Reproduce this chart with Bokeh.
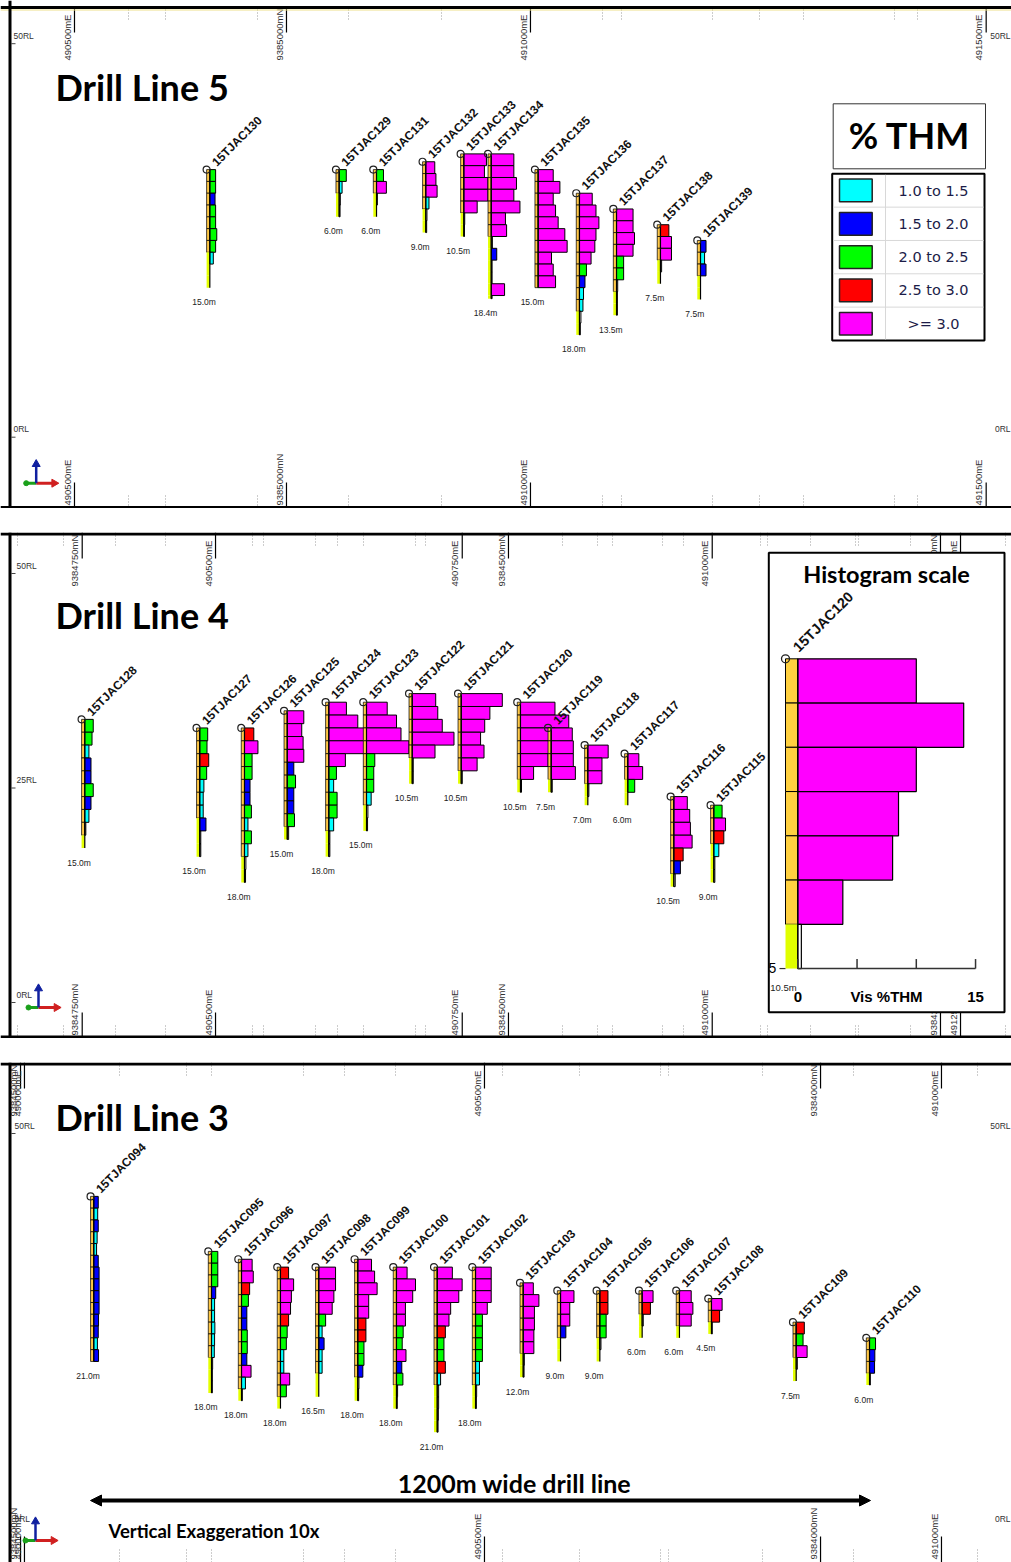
import numpy as np
from bokeh.plotting import figure
from bokeh.layouts import column
from bokeh.models import Span, Arrow, NormalHead
from bokeh.core.properties import value
from bokeh.embed import file_html
from bokeh.resources import INLINE

# ---------------- data ----------------
INTERVAL_M = 1.5
BIN_LOWER = [1.0, 1.5, 2.0, 2.5, 3.0]
BIN_COLORS = ["#00FFFF", "#0000FF", "#00FF00", "#FF0000", "#FF00FF"]
BIN_LABELS = ["1.0 to 1.5", "1.5 to 2.0", "2.0 to 2.5", "2.5 to 3.0", ">= 3.0"]
LITH_UPPER = "#FFC846"
LITH_LOWER = "#E4FF00"

# Drill Line 5
L5_HOLES = ["15TJAC130", "15TJAC129", "15TJAC131", "15TJAC132", "15TJAC133", "15TJAC134",
            "15TJAC135", "15TJAC136", "15TJAC137", "15TJAC138", "15TJAC139"]
L5_CHAINAGE_M = [222.7, 365.8, 407.1, 461.6, 503.7, 534.0, 585.9, 631.6, 672.6, 721.2, 765.5]
L5_COLLAR_RL = [34, 34, 34, 35, 36, 36, 34, 31, 29, 27, 25]
L5_DEPTH_M = [15.0, 6.0, 6.0, 9.0, 10.5, 18.4, 15.0, 18.0, 13.5, 7.5, 7.5]
L5_THM = [
    [2.0, 2.0, 1.8, 2.0, 2.0, 2.4, 2.0, 1.2, 0, 0],
    [2.45, 1.0, 0.4, 0.3],
    [2.4, 3.4, 0.3, 0],
    [3.1, 3.5, 3.9, 1.1, 0.4, 0.3],
    [7.8, 7.1, 8.3, 8.3, 4.6, 0.3, 0.2],
    [7.8, 7.8, 8.7, 7.8, 9.9, 4.9, 5.3, 0.4, 1.9, 0.3, 0.3, 4.6, 0.3],
    [5.2, 7.5, 5.2, 6.0, 6.9, 9.2, 10.0, 4.6, 5.2, 6.0],
    [4.4, 5.7, 6.7, 5.7, 5.3, 4.0, 2.4, 1.9, 1.4, 1.2, 0.5, 0.3],
    [5.7, 5.7, 6.2, 5.7, 2.45, 2.45, 0.4, 0.3, 0.3],
    [2.9, 3.8, 3.8, 0.4, 0],
    [1.9, 1.4, 1.9, 0, 0],
]
L5_UPPER_N = [7, 2, 2, 4, 5, 7, 10, 10, 7, 3, 3]

# Drill Line 4
L4_HOLES = ["15TJAC128", "15TJAC127", "15TJAC126", "15TJAC125", "15TJAC124", "15TJAC123",
            "15TJAC122", "15TJAC121", "15TJAC120", "15TJAC119", "15TJAC118", "15TJAC117",
            "15TJAC116", "15TJAC115"]
L4_CHAINAGE_M = [76.9, 192.8, 237.9, 281.0, 322.9, 360.9, 407.0, 456.4, 516.1, 547.1, 584.0,
                 624.3, 670.7, 711.0]
L4_COLLAR_RL = [33, 32, 32, 34, 35, 35, 36, 36, 35, 32, 30, 29, 24, 23]
L4_DEPTH_M = [15.0, 15.0, 18.0, 15.0, 18.0, 15.0, 10.5, 10.5, 10.5, 7.5, 7.0, 6.0, 10.5, 9.0]
L4_THM = [
    [2.45, 2.1, 1.2, 1.8, 1.8, 2.45, 1.8, 1.2, 0.3, 0],
    [2.3, 2.1, 2.6, 2.0, 1.2, 1.0, 1.0, 1.8, 0.3, 0.3],
    [2.7, 3.9, 2.2, 2.2, 1.6, 1.6, 2.0, 1.0, 2.0, 1.0, 0.4, 0.3],
    [4.8, 4.2, 4.6, 4.8, 1.9, 2.4, 1.9, 1.9, 2.1, 0.4],
    [5.1, 8.4, 11.0, 12.0, 4.8, 2.2, 1.4, 2.4, 2.4, 1.4, 0.3, 0.3],
    [6.0, 8.7, 10.0, 12.3, 2.4, 2.1, 2.1, 1.35, 0.4, 0.3],
    [6.8, 7.4, 8.7, 12.1, 6.6, 0.3, 0.3],
    [11.9, 8.3, 6.8, 5.6, 6.6, 4.6, 0.3],
    [10.0, 14.0, 10.0, 8.5, 8.0, 3.8, 0.3],
    [6.1, 6.4, 6.4, 7.0, 0.3],
    [5.9, 4.1, 4.1, 0.3, 0],
    [3.2, 4.3, 2.0, 0],
    [3.9, 4.6, 4.8, 5.3, 2.7, 1.9, 0.4],
    [2.4, 3.4, 2.9, 1.45, 0.3, 0.3],
]
L4_UPPER_N = [9, 7, 10, 9, 10, 8, 5, 6, 6, 4, 3, 2, 6, 3]

# Drill Line 3
L3_HOLES = ["15TJAC094", "15TJAC095", "15TJAC096", "15TJAC097", "15TJAC098", "15TJAC099",
            "15TJAC100", "15TJAC101", "15TJAC102", "15TJAC103", "15TJAC104", "15TJAC105",
            "15TJAC106", "15TJAC107", "15TJAC108", "15TJAC109", "15TJAC110"]
L3_CHAINAGE_M = [93.5, 222.6, 255.5, 298.2, 340.2, 383.0, 425.4, 470.1, 512.1, 564.4, 605.3,
                 648.4, 694.8, 735.7, 770.8, 863.7, 944.1]
L3_COLLAR_RL = [42, 35, 34, 33, 33, 34, 33, 33, 33, 31, 30, 30, 30, 30, 29, 26, 24]
L3_DEPTH_M = [21.0, 18.0, 18.0, 18.0, 16.5, 18.0, 18.0, 21.0, 18.0, 12.0, 9.0, 9.0, 6.0, 6.0,
              4.5, 7.5, 6.0]
L3_THM = [
    [1.6, 1.4, 1.6, 1.2, 1.0, 1.6, 1.9, 1.9, 1.9, 1.9, 1.7, 1.6, 1.3, 1.7],
    [2.25, 2.25, 2.25, 1.5, 1.1, 1.1, 1.2, 1.1, 1.0, 0.4, 0.3, 0.3],
    [3.8, 4.2, 2.9, 2.45, 1.9, 1.9, 2.05, 2.05, 1.9, 3.4, 1.4, 0.3],
    [2.9, 4.7, 3.9, 3.6, 2.9, 2.4, 2.1, 1.2, 1.2, 3.3, 2.1, 0],
    [6.0, 6.0, 5.4, 4.8, 2.45, 1.2, 1.9, 1.2, 1.2, 0, 0],
    [4.9, 6.0, 6.9, 3.9, 3.9, 2.9, 2.9, 2.2, 2.2, 1.8, 0.4, 0.3],
    [3.8, 6.8, 5.8, 3.2, 3.2, 2.4, 2.05, 3.4, 1.9, 2.3, 0.4, 0.3],
    [5.4, 8.9, 7.7, 4.8, 4.2, 2.9, 2.4, 2.4, 2.9, 1.2, 0.5, 0.5, 0.4, 0.3],
    [5.6, 5.6, 5.6, 4.2, 2.45, 2.45, 2.45, 2.45, 1.4, 1.4, 0.4, 0.3],
    [3.6, 5.6, 4.0, 4.0, 3.8, 3.8, 0.4, 0.3],
    [4.8, 3.3, 3.3, 1.9, 0, 0],
    [2.9, 2.9, 2.25, 2.25, 0.4, 0],
    [3.9, 2.95, 0.4, 0],
    [4.2, 4.8, 4.2, 0],
    [3.8, 2.9, 0.3],
    [2.9, 2.45, 3.9, 0.4, 0],
    [2.15, 1.9, 1.8, 0.3],
]
L3_UPPER_N = [14, 9, 11, 11, 9, 10, 10, 10, 10, 6, 4, 4, 2, 3, 2, 3, 3]

# section grid tick labels (chainage along section, m)
L5_TICK_LABELS = ["490500mE", "9385000mN", "491000mE", "491500mE"]
L5_TICK_M = [73.0, 307.5, 577.4, 1081.5]
L4_TICK_LABELS = ["9384750mN", "490500mE", "490750mE", "9384500mN", "491000mE", "9384250mN", "491250mE"]
L4_TICK_M = [74.3, 208.7, 457.4, 504.0, 709.4, 939.5, 959.7]
L3_TICK_LABELS = ["9384500mN", "490000mE", "490500mE", "9384000mN", "491000mE"]
L3_TICK_M = [13.2, 17.5, 521.9, 890.4, 1023.0]
L5_RL_TICKS = [50, 0]
L4_RL_TICKS = [50, 25, 0]
L3_RL_TICKS = [50, 0]

INSET_HOLE = "15TJAC120"
INSET_SCALE_TICKS = [0, 5, 10, 15]

# ---------------- helpers ----------------
FONT = value("Liberation Sans")
TITLE_FONT = value("Lato")
PAGE_W = 1011


def thm_color(v):
    c = "white"
    for lo, col in zip(BIN_LOWER, BIN_COLORS):
        if v >= lo:
            c = col
    return c


def make_panel(top, height, kx, ky, rl0_px):
    X = lambda px: (px - 8.0) / kx
    Y = lambda py: (rl0_px - py) / ky
    p = figure(width=PAGE_W, height=height, x_range=(X(0), X(PAGE_W)),
               y_range=(Y(top + height), Y(top)), x_axis_type=None, y_axis_type=None,
               output_backend="svg", toolbar_location=None, min_border=0,
               outline_line_color=None, background_fill_color="white",
               border_fill_color="white")
    return p, X, Y


def frame(p, X, Y, edge_top, edge_bot=None):
    p.add_layout(Span(location=X(9.5), dimension="height", line_color="black", line_width=3))
    p.add_layout(Span(location=Y(edge_top), dimension="width", line_color="black", line_width=3))
    if edge_bot is not None:
        p.add_layout(Span(location=Y(edge_bot), dimension="width", line_color="black",
                          line_width=3))


def grid_ticks(p, X, Y, kx, top, bot, labels, ticks_m, dots_px, bottom=True):
    for lab, tm in zip(labels, ticks_m):
        p.segment(x0=tm, y0=Y(top), x1=tm, y1=Y(top + 26), line_color="black", line_width=1.2)
        p.text(x=[tm - 7.3 / kx], y=[Y(top + 54)], text=[lab], angle=np.pi / 2,
               text_font=FONT, text_font_size="9.5px", text_color="#333333",
               text_align="left", text_baseline="middle")
        if bottom:
            p.segment(x0=tm, y0=Y(bot - 26), x1=tm, y1=Y(bot), line_color="black", line_width=1.2)
            p.text(x=[tm - 7.3 / kx], y=[Y(bot - 3)], text=[lab], angle=np.pi / 2,
                   text_font=FONT, text_font_size="9.5px", text_color="#333333",
                   text_align="left", text_baseline="middle")
    xs = [X(d) for d in dots_px]
    p.segment(x0=xs, y0=[Y(top)] * len(xs), x1=xs, y1=[Y(top + 13)] * len(xs),
              line_color="#9a9a9a", line_width=1, line_dash="1 2")
    if bottom:
        p.segment(x0=xs, y0=[Y(bot - 13)] * len(xs), x1=xs, y1=[Y(bot)] * len(xs),
                  line_color="#9a9a9a", line_width=1, line_dash="1 2")


def rl_labels(p, X, ky, rl_ticks, left_px, right_px=None):
    for rl in rl_ticks:
        lab = f"{rl}RL"
        p.segment(x0=X(11), y0=rl, x1=X(15), y1=rl, line_color="#444444", line_width=1)
        p.text(x=[X(left_px)], y=[rl + 8 / ky], text=[lab],
               text_font=FONT, text_font_size="8.5px", text_color="#333333",
               text_align="left", text_baseline="middle")
        if right_px is not None:
            p.text(x=[X(right_px)], y=[rl + 8 / ky], text=[lab],
                   text_font=FONT, text_font_size="8.5px", text_color="#333333",
                   text_align="right", text_baseline="middle")


def triad(p, X, Y, ox, oy):
    p.segment(x0=X(ox - 10), y0=Y(oy), x1=X(ox), y1=Y(oy), line_color="#1aa01a", line_width=3)
    p.scatter(x=[X(ox - 10)], y=[Y(oy)], size=5, marker="circle", fill_color="#1aa01a",
              line_color="#1aa01a")
    p.segment(x0=X(ox), y0=Y(oy), x1=X(ox + 17), y1=Y(oy), line_color="#d02020", line_width=3)
    p.scatter(x=[X(ox + 18)], y=[Y(oy)], size=8, marker="triangle", angle=-np.pi / 2,
              fill_color="#d02020", line_color="#d02020")
    p.segment(x0=X(ox), y0=Y(oy), x1=X(ox), y1=Y(oy - 17), line_color="#1020a0", line_width=2.5)
    p.scatter(x=[X(ox)], y=[Y(oy - 19)], size=8, marker="triangle",
              fill_color="#1020a0", line_color="#1020a0")


def draw_holes(p, kx, ky, names, chain, rl, depth, thm, n_upper, pct_px, strip_px=3.2):
    sw = strip_px / kx
    mpp = pct_px / kx
    for i in range(len(names)):
        vals = thm[i]
        n = len(vals)
        tops = [rl[i] - j * INTERVAL_M for j in range(n)]
        bots = [rl[i] - min((j + 1) * INTERVAL_M, depth[i]) for j in range(n)]
        up = [j < n_upper[i] for j in range(n)]
        p.quad(left=chain[i] - sw, right=chain[i], top=tops, bottom=bots,
               fill_color=[LITH_UPPER if u else LITH_LOWER for u in up],
               line_color="black", line_alpha=[0.9 if u else 0.0 for u in up], line_width=0.8)
        idx = [j for j in range(n) if vals[j] > 0]
        if idx:
            p.quad(left=chain[i], right=[chain[i] + vals[j] * mpp for j in idx],
                   top=[tops[j] for j in idx], bottom=[bots[j] for j in idx],
                   fill_color=[thm_color(vals[j]) for j in idx],
                   fill_alpha=[1.0 if vals[j] >= BIN_LOWER[0] else 0.0 for j in idx],
                   line_color="black", line_width=1)
        p.segment(x0=chain[i], y0=rl[i], x1=chain[i], y1=rl[i] - depth[i],
                  line_color="black", line_width=1.2)
    cx = [c - sw for c in chain]
    p.scatter(x=cx, y=rl, size=7, marker="circle", fill_color=None,
              line_color="#222222", line_width=1.2)
    p.text(x=[c + 7.5 / kx for c in cx], y=[r + 5.5 / ky for r in rl], text=names,
           angle=np.pi / 4, text_font=FONT, text_font_style="bold", text_font_size="12px",
           text_color="#111111", text_align="left", text_baseline="alphabetic")
    p.text(x=[c - 2.5 / kx for c in cx], y=[r - d - 14.5 / ky for r, d in zip(rl, depth)],
           text=[f"{d:.1f}m" for d in depth], text_font=FONT, text_font_size="8.5px",
           text_color="#222222", text_align="center", text_baseline="middle")


def title(p, X, Y, txt, mid_px):
    p.text(x=[X(55)], y=[Y(mid_px)], text=[txt], text_font=TITLE_FONT,
           text_font_style="bold", text_font_size="36px", text_color="black",
           text_align="left", text_baseline="middle")


# ---------------- panel 1 : Drill Line 5 ----------------
T1, H1, KX1, KY1 = 0, 508, 0.904, 7.87
p1, X1, Y1 = make_panel(T1, H1, KX1, KY1, 436.7)
grid_ticks(p1, X1, Y1, KX1, 6, 508, L5_TICK_LABELS, L5_TICK_M,
           [128, 165, 257, 348, 441, 602, 621, 712, 759, 803, 894, 917])
rl_labels(p1, X1, KY1, L5_RL_TICKS, 13, 1010)
title(p1, X1, Y1, "Drill Line 5", 86)
draw_holes(p1, KX1, KY1, L5_HOLES, L5_CHAINAGE_M, L5_COLLAR_RL, L5_DEPTH_M, L5_THM,
           L5_UPPER_N, 2.9)
triad(p1, X1, Y1, 35.7, 482.7)

# legend
p1.quad(left=X1(832.7), right=X1(985), top=Y1(103.3), bottom=Y1(168.3),
        fill_color="white", line_color="#333333", line_width=1)
p1.text(x=[X1(909)], y=[Y1(134)], text=["% THM"], text_font=TITLE_FONT,
        text_font_style="bold", text_font_size="36px", text_color="black",
        text_align="center", text_baseline="middle")
row_h = 33.33
lt, ll, lr = 173.3, 831.7, 984
row_tops = [lt + k * row_h for k in range(len(BIN_LABELS))]
p1.quad(left=X1(ll), right=X1(lr), top=Y1(lt), bottom=Y1(lt + row_h * len(BIN_LABELS)),
        fill_color="white", line_color="black", line_width=2)
p1.segment(x0=X1(ll + 1), y0=[Y1(t) for t in row_tops[1:]], x1=X1(lr - 1),
           y1=[Y1(t) for t in row_tops[1:]], line_color="#d8d8d8", line_width=1)
p1.segment(x0=X1(885), y0=Y1(lt + 1), x1=X1(885), y1=Y1(lt + row_h * 5 - 1),
           line_color="#d8d8d8", line_width=1)
p1.quad(left=X1(839), right=X1(871.7), top=[Y1(t + 5.3) for t in row_tops],
        bottom=[Y1(t + 28) for t in row_tops], fill_color=BIN_COLORS,
        line_color="#222222", line_width=1.5)
p1.text(x=[X1(933)] * 5, y=[Y1(t + 16.7) for t in row_tops], text=BIN_LABELS,
        text_font=value("DejaVu Sans"), text_font_size="14.5px", text_color="#1c1c48",
        text_align="center", text_baseline="middle")
p1.add_layout(Span(location=Y1(9.5), dimension="width", line_color="#EEE08A", line_width=1))
frame(p1, X1, Y1, 7.0, 507.0)

# ---------------- panel 2 : Drill Line 4 ----------------
T2, H2, KX2, KY2 = 532, 506, 0.992, 8.58
p2, X2, Y2 = make_panel(T2, H2, KX2, KY2, 1002.0)
grid_ticks(p2, X2, Y2, KX2, T2, T2 + H2, L4_TICK_LABELS, L4_TICK_M,
           [17, 63, 115, 165, 252, 263, 315, 337, 363, 415, 425, 562, 597, 612, 662, 683,
            760, 767, 810, 855, 858, 910, 1005])
rl_labels(p2, X2, KY2, L4_RL_TICKS, 16)
title(p2, X2, Y2, "Drill Line 4", 614)
draw_holes(p2, KX2, KY2, L4_HOLES, L4_CHAINAGE_M, L4_COLLAR_RL, L4_DEPTH_M, L4_THM,
           L4_UPPER_N, 3.45)
triad(p2, X2, Y2, 38, 1007)

# histogram-scale inset
p2.quad(left=X2(768.3), right=X2(1004), top=Y2(552.3), bottom=Y2(1011.7),
        fill_color="white", line_color="black", line_width=2)
p2.text(x=[X2(886)], y=[Y2(573)], text=["Histogram scale"], text_font=TITLE_FONT,
        text_font_style="bold", text_font_size="23.5px", text_color="black",
        text_align="center", text_baseline="middle")
k = L4_HOLES.index(INSET_HOLE)
ivals, idep, inu = L4_THM[k], L4_DEPTH_M[k], L4_UPPER_N[k]
base, cy0, vpm, hpp, swp = 797.3, 658.3, 29.5, 11.85, 12.3
ni = len(ivals)
itop = [cy0 + j * INTERVAL_M * vpm for j in range(ni)]
ibot = [cy0 + min((j + 1) * INTERVAL_M, idep) * vpm for j in range(ni)]
iup = [j < inu for j in range(ni)]
p2.quad(left=X2(base - swp), right=X2(base), top=[Y2(t) for t in itop],
        bottom=[Y2(b) for b in ibot], fill_color=["#FFD040" if u else "#E0FF00" for u in iup],
        line_color="black", line_alpha=[1.0 if u else 0.0 for u in iup], line_width=1)
p2.quad(left=X2(base), right=[X2(base + v * hpp) for v in ivals],
        top=[Y2(t) for t in itop], bottom=[Y2(b) for b in ibot],
        fill_color=[thm_color(v) for v in ivals],
        fill_alpha=[1.0 if v >= BIN_LOWER[0] else 0.0 for v in ivals],
        line_color="black", line_width=1.2)
iax = cy0 + idep * vpm
p2.segment(x0=X2(base), y0=Y2(cy0), x1=X2(base), y1=Y2(iax), line_color="black", line_width=1.2)
p2.segment(x0=X2(base), y0=Y2(iax), x1=X2(base + INSET_SCALE_TICKS[-1] * hpp), y1=Y2(iax),
           line_color="#333333", line_width=1.5)
p2.segment(x0=[X2(base + t * hpp) for t in INSET_SCALE_TICKS], y0=Y2(iax),
           x1=[X2(base + t * hpp) for t in INSET_SCALE_TICKS], y1=Y2(iax - 9.5),
           line_color="#333333", line_width=1.5)
p2.segment(x0=X2(779), y0=Y2(iax), x1=X2(base - swp), y1=Y2(iax), line_color="#333333",
           line_width=1.2)
p2.text(x=[X2(base + INSET_SCALE_TICKS[0] * hpp), X2(base + INSET_SCALE_TICKS[-1] * hpp)],
        y=[Y2(996)] * 2, text=[str(INSET_SCALE_TICKS[0]), str(INSET_SCALE_TICKS[-1])],
        text_font=FONT, text_font_style="bold", text_font_size="15px", text_color="black",
        text_align="center", text_baseline="middle")
p2.text(x=[X2(886)], y=[Y2(996)], text=["Vis %THM"], text_font=FONT, text_font_style="bold",
        text_font_size="15px", text_color="black", text_align="center", text_baseline="middle")
p2.text(x=[X2(772)], y=[Y2(967)], text=["5"], text_font=FONT, text_font_size="14px",
        text_color="black", text_align="center", text_baseline="middle")
p2.text(x=[X2(783)], y=[Y2(987)], text=[f"{idep:.1f}m"], text_font=FONT,
        text_font_size="9.5px", text_color="#222222", text_align="center",
        text_baseline="middle")
p2.scatter(x=[X2(base - swp)], y=[Y2(cy0)], size=8, marker="circle", fill_color=None,
           line_color="#222222", line_width=1.3)
p2.text(x=[X2(795)], y=[Y2(649)], text=[INSET_HOLE], angle=np.pi / 4, text_font=FONT,
        text_font_style="bold", text_font_size="14.5px", text_color="#111111",
        text_align="left", text_baseline="alphabetic")
frame(p2, X2, Y2, T2 + 1.5, T2 + H2 - 1.5)

# ---------------- panel 3 : Drill Line 3 ----------------
T3, H3, KX3, KY3 = 1062, 500, 0.912, 7.86
p3, X3, Y3 = make_panel(T3, H3, KX3, KY3, 1526.0)
grid_ticks(p3, X3, Y3, KX3, T3, T3 + H3, L3_TICK_LABELS, L3_TICK_M,
           [119, 186, 211, 303, 344, 395, 502, 579, 660, 668, 762, 853, 977])
rl_labels(p3, X3, KY3, L3_RL_TICKS, 14, 1010)
title(p3, X3, Y3, "Drill Line 3", 1116)
draw_holes(p3, KX3, KY3, L3_HOLES, L3_CHAINAGE_M, L3_COLLAR_RL, L3_DEPTH_M, L3_THM,
           L3_UPPER_N, 2.8)
triad(p3, X3, Y3, 35, 1540)
p3.add_layout(Arrow(start=NormalHead(size=11, fill_color="black", line_color="black"),
                    end=NormalHead(size=11, fill_color="black", line_color="black"),
                    x_start=X3(90), y_start=Y3(1500), x_end=X3(870), y_end=Y3(1500),
                    line_width=4, line_color="black"))
p3.text(x=[X3(514)], y=[Y3(1482)], text=["1200m wide drill line"], text_font=TITLE_FONT,
        text_font_style="bold", text_font_size="25px", text_color="black",
        text_align="center", text_baseline="middle")
p3.text(x=[X3(108)], y=[Y3(1530)], text=["Vertical Exaggeration 10x"], text_font=TITLE_FONT,
        text_font_style="bold", text_font_size="18.5px", text_color="black",
        text_align="left", text_baseline="middle")
frame(p3, X3, Y3, T3 + 1.5)

layout = column(p1, p2, p3, spacing=24)
open("out.html", "w").write(file_html(layout, INLINE))
